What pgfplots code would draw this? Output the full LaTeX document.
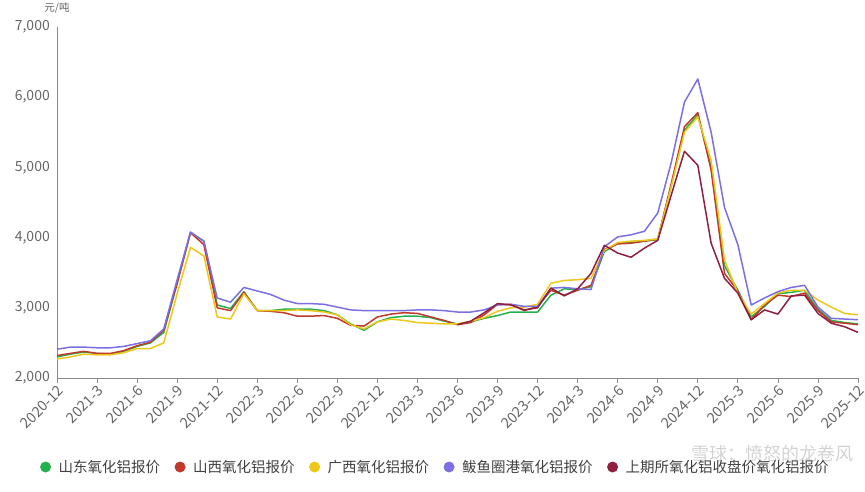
\documentclass[border=0pt]{standalone}
\usepackage{fontspec}
\setmainfont{Noto Sans CJK SC}
\usepackage{pgfplots}
\usepackage{pgfplotstable}
\pgfplotsset{compat=1.18}

\definecolor{cgreen}{HTML}{22B14C}
\definecolor{cred}{HTML}{C0392B}
\definecolor{cyellow}{HTML}{EEC71B}
\definecolor{cpurple}{HTML}{7B6FE3}
\definecolor{cmaroon}{HTML}{8E1F3F}
\definecolor{txtgray}{HTML}{666666}
\definecolor{axgray}{HTML}{8A8A8A}

\pgfplotstableread{
m sd sx gx byq
0 2300 2320 2270 2410
1 2340 2350 2300 2440
2 2370 2380 2340 2440
3 2350 2350 2330 2430
4 2340 2350 2330 2430
5 2380 2390 2360 2450
6 2450 2460 2420 2490
7 2500 2510 2420 2530
8 2650 2680 2500 2700
9 3350 3350 3200 3400
10 4070 4070 3860 4080
11 3950 3900 3740 3950
12 3040 3000 2870 3140
13 2990 2960 2840 3080
14 3230 3220 3200 3290
15 2960 2960 2960 3240
16 2960 2950 2960 3190
17 2980 2930 2960 3110
18 2980 2880 2970 3060
19 2980 2880 2960 3060
20 2960 2890 2940 3050
21 2900 2850 2900 3010
22 2770 2750 2760 2970
23 2680 2740 2700 2960
24 2800 2870 2800 2960
25 2860 2910 2840 2960
26 2880 2930 2820 2960
27 2880 2920 2790 2970
28 2860 2870 2780 2970
29 2810 2820 2770 2960
30 2770 2760 2770 2940
31 2800 2790 2810 2940
32 2850 2900 2860 2970
33 2890 3050 2950 3040
34 2940 3050 3000 3050
35 2940 2960 3010 3020
36 2940 3020 3050 3020
37 3180 3250 3350 3280
38 3270 3180 3390 3290
39 3260 3250 3400 3270
40 3300 3320 3420 3260
41 3800 3830 3820 3870
42 3920 3910 3930 4010
43 3930 3920 3950 4040
44 3950 3950 3960 4090
45 3970 3980 3980 4350
46 4730 4760 4720 5060
47 5530 5580 5500 5930
48 5750 5780 5720 6260
49 5000 4960 5100 5500
50 3600 3490 3680 4430
51 3250 3240 3210 3900
52 2870 2830 2910 3040
53 3020 3040 3060 3140
54 3200 3180 3210 3230
55 3220 3160 3250 3290
56 3250 3210 3250 3320
57 2980 2960 3110 3010
58 2820 2800 3010 2850
59 2790 2780 2920 2840
60 2770 2760 2900 2830
}\maindata

\pgfplotstableread{
m shfe
30 2760
31 2810
32 2930
33 3060
34 3040
35 2970
36 3000
37 3280
38 3170
39 3270
40 3490
41 3890
42 3780
43 3720
44 3850
45 3960
46 4600
47 5230
48 5030
49 3920
50 3420
51 3210
52 2830
53 2970
54 2910
55 3170
56 3180
57 2920
58 2780
59 2730
60 2650
}\shfedata

\begin{document}
\begin{tikzpicture}[x=1pt,y=1pt]
\path[use as bounding box] (0,0) rectangle (865,491);
\begin{axis}[
  at={(57pt,113pt)}, anchor=south west,
  scale only axis, width=801pt, height=351pt,
  xmin=0, xmax=60, ymin=2000, ymax=7000,
  axis x line*=bottom, axis y line*=left,
  axis line style={axgray, line width=0.9pt},
  xtick={0,3,...,60},
  xticklabels={2020-12,2021-3,2021-6,2021-9,2021-12,2022-3,2022-6,2022-9,2022-12,2023-3,2023-6,2023-9,2023-12,2024-3,2024-6,2024-9,2024-12,2025-3,2025-6,2025-9,2025-12},
  x tick label style={rotate=45, anchor=north east, font=\fontsize{14.5}{16}\selectfont, text=txtgray, inner sep=1pt},
  ytick={2000,3000,...,7000},
  y tick label style={font=\fontsize{14}{16}\selectfont, text=txtgray, inner sep=2pt},
  /pgf/number format/1000 sep={,},
  /pgf/number format/assume math mode=true,
  tick align=outside, major tick length=5pt,
  x tick style={axgray, line width=0.8pt},
  y tick style={draw=none},
  legend columns=5,
  legend style={at={(axis description cs:0.472,-0.2536)}, anchor=center, draw=none, fill=none,
    font=\fontsize{14.5}{16}\selectfont, text=black!75,
    /tikz/every even column/.append style={column sep=12pt}},
  legend image code/.code={\fill[#1, draw=none] (0pt,0pt) circle (5.5pt); \path[draw=none, fill=none] (-6pt,0pt) -- (11pt,0pt);},
  every axis plot/.append style={line width=1.5pt, line join=round},
  clip=false,
]
\addplot[cgreen, no marks] table[x=m, y=sd] {\maindata};
\addlegendentry{山东氧化铝报价}
\addplot[cred, no marks] table[x=m, y=sx] {\maindata};
\addlegendentry{山西氧化铝报价}
\addplot[cyellow, no marks] table[x=m, y=gx] {\maindata};
\addlegendentry{广西氧化铝报价}
\addplot[cpurple, no marks] table[x=m, y=byq] {\maindata};
\addlegendentry{鲅鱼圈港氧化铝报价}
\addplot[cmaroon, no marks] table[x=m, y=shfe] {\shfedata};
\addlegendentry{上期所氧化铝收盘价氧化铝报价}
\node[font=\fontsize{10.5}{12}\selectfont, text=txtgray] at (axis description cs:0,1) [yshift=19pt] {元/吨};
\end{axis}
\node[font=\fontsize{18}{20}\selectfont, text=gray, opacity=0.35, anchor=west] at (688,37) {雪球：愤怒的龙卷风};
\end{tikzpicture}
\end{document}
